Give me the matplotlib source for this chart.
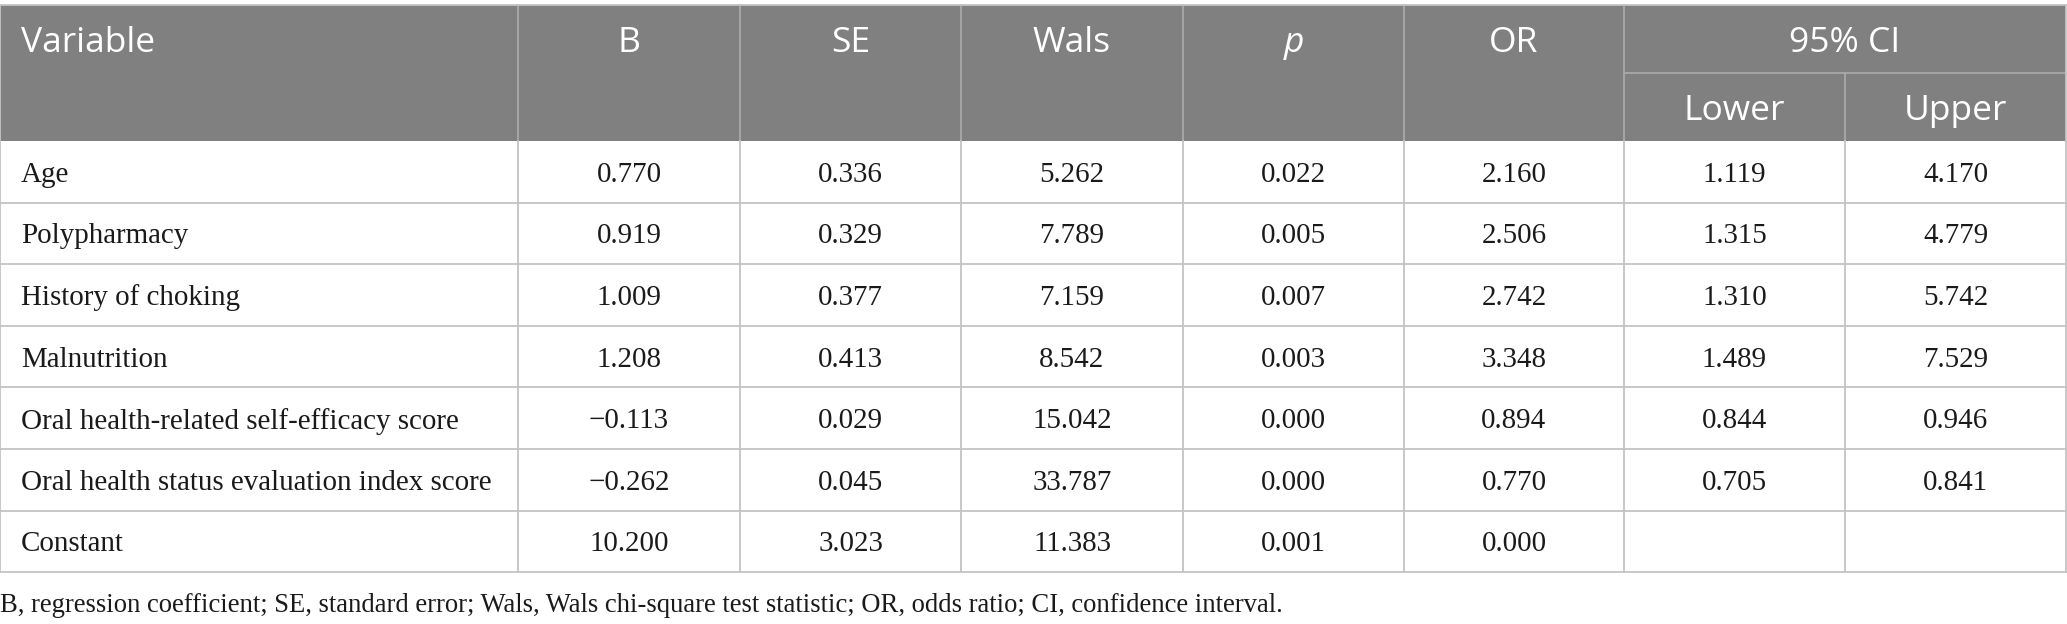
import matplotlib.pyplot as plt
from matplotlib.patches import Rectangle

# table content
variables = [
    "Age",
    "Polypharmacy",
    "History of choking",
    "Malnutrition",
    "Oral health-related self-efficacy score",
    "Oral health status evaluation index score",
    "Constant",
]
b_vals = ["0.770", "0.919", "1.009", "1.208", "\u22120.113", "\u22120.262", "10.200"]
se_vals = ["0.336", "0.329", "0.377", "0.413", "0.029", "0.045", "3.023"]
wals_vals = ["5.262", "7.789", "7.159", "8.542", "15.042", "33.787", "11.383"]
p_vals = ["0.022", "0.005", "0.007", "0.003", "0.000", "0.000", "0.001"]
or_vals = ["2.160", "2.506", "2.742", "3.348", "0.894", "0.770", "0.000"]
ci_lower = ["1.119", "1.315", "1.310", "1.489", "0.844", "0.705", ""]
ci_upper = ["4.170", "4.779", "5.742", "7.529", "0.946", "0.841", ""]

headers = ["Variable", "B", "SE", "Wals", "p", "OR"]
footnote = ("B, regression coefficient; SE, standard error; Wals, Wals chi-square test "
            "statistic; OR, odds ratio; CI, confidence interval.")

W, H = 2067, 624
HEAD_BG = "#808080"
GRID = "#c4c4c4"
HEAD_GRID = "#a8a8a8"
HEAD_FONT = "Open Sans"
BODY_FONT = "Liberation Serif"
HEAD_FS = 25.5
BODY_FS = 20.9
TXT = "#1a1a1a"

col_x = [0, 518, 740, 961, 1183, 1404, 1624, 1845, 2066]
top, mid, head_bot = 5, 73, 141
row_h = 61.6

fig = plt.figure(figsize=(W / 100, H / 100), dpi=100)
ax = fig.add_axes([0, 0, 1, 1])
ax.set_xlim(0, W)
ax.set_ylim(H, 0)
ax.axis("off")

# header block
ax.add_patch(Rectangle((col_x[0], top), col_x[-1] - col_x[0], head_bot - top,
                       facecolor=HEAD_BG, edgecolor="none"))
for x in col_x[1:-1]:
    y0 = mid if x == col_x[7] else top
    ax.plot([x, x], [y0, head_bot], color=HEAD_GRID, lw=1.3)
ax.plot([col_x[6], col_x[8]], [mid, mid], color=HEAD_GRID, lw=1.3)

head_y = (top + mid) / 2 + 4
for i, h in enumerate(headers):
    style = "italic" if h == "p" else "normal"
    if i == 0:
        ax.text(col_x[0] + 21, head_y, h, ha="left", va="center", color="white",
                fontsize=HEAD_FS, family=HEAD_FONT, style=style)
    else:
        ax.text((col_x[i] + col_x[i + 1]) / 2, head_y, h, ha="center", va="center",
                color="white", fontsize=HEAD_FS, family=HEAD_FONT, style=style)
ax.text((col_x[6] + col_x[8]) / 2, head_y, "95% CI", ha="center", va="center",
        color="white", fontsize=HEAD_FS, family=HEAD_FONT)
sub_y = (mid + head_bot) / 2 + 4
for i, lab in zip([6, 7], ["Lower", "Upper"]):
    ax.text((col_x[i] + col_x[i + 1]) / 2, sub_y, lab, ha="center", va="center",
            color="white", fontsize=HEAD_FS, family=HEAD_FONT)

# body rows
columns = [b_vals, se_vals, wals_vals, p_vals, or_vals, ci_lower, ci_upper]
n = len(variables)
bottom = head_bot + n * row_h
for r in range(n):
    y0 = head_bot + r * row_h
    yc = y0 + row_h / 2 + 3
    ax.text(col_x[0] + 21, yc, variables[r], ha="left", va="center",
            fontsize=BODY_FS, family=BODY_FONT, color=TXT)
    for c, vals in enumerate(columns):
        ax.text((col_x[c + 1] + col_x[c + 2]) / 2, yc, vals[r], ha="center",
                va="center", fontsize=BODY_FS, family=BODY_FONT, color=TXT)
    ax.plot([col_x[0], col_x[-1]], [y0 + row_h, y0 + row_h], color=GRID, lw=1.3)

for x in col_x:
    ax.plot([x, x], [head_bot, bottom], color=GRID, lw=1.3)
ax.plot([col_x[0], col_x[0]], [top, head_bot], color=GRID, lw=1.3)
ax.plot([col_x[-1], col_x[-1]], [top, head_bot], color=GRID, lw=1.3)
ax.plot([col_x[0], col_x[-1]], [top, top], color=GRID, lw=1.3)

ax.text(0, 605, footnote, ha="left", va="center", fontsize=19.2,
        family=BODY_FONT, color=TXT)

fig.savefig("out.png", dpi=100)
